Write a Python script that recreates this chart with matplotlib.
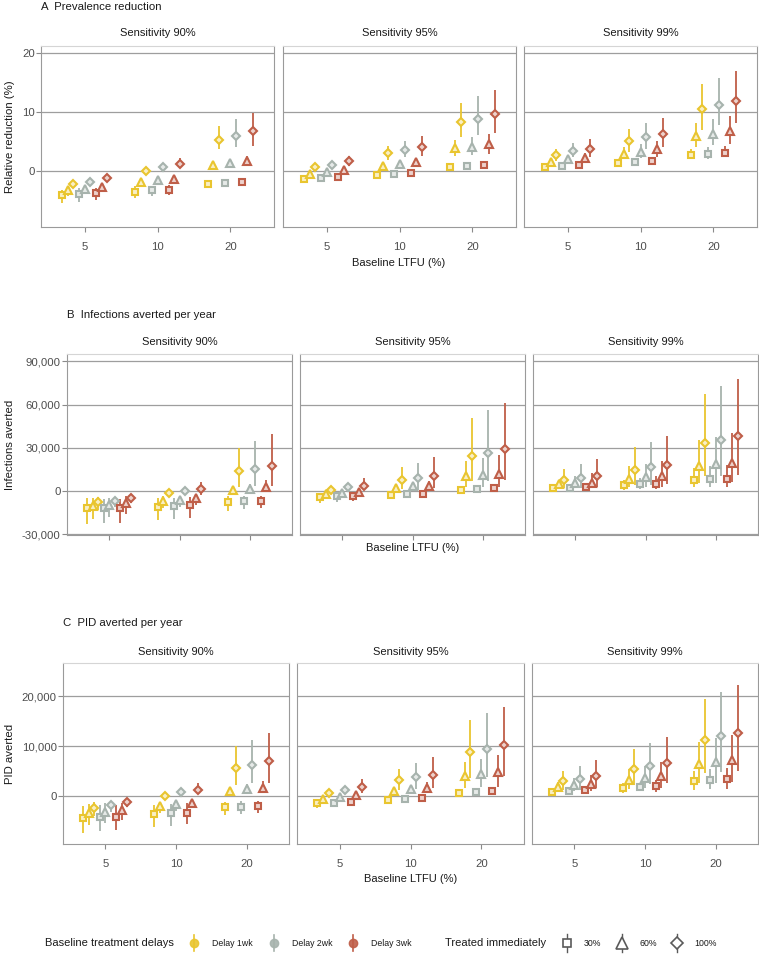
import matplotlib
matplotlib.use('Agg')
import matplotlib.pyplot as plt
import numpy as np
from matplotlib.ticker import FuncFormatter
from matplotlib.colors import to_rgb

plt.rcParams['font.family'] = ['Liberation Sans', 'DejaVu Sans']

# ---------------- data ----------------
ltfu_labels = ['5', '10', '20']
sensitivity_labels = ['Sensitivity 90%', 'Sensitivity 95%', 'Sensitivity 99%']
delay_labels = ['Delay 1wk', 'Delay 2wk', 'Delay 3wk']
treated_labels = ['30%', '60%', '100%']
# within each LTFU group the 9 values are ordered:
# (1wk,30%) (1wk,60%) (1wk,100%) (2wk,30%) ... (3wk,100%)

# A: relative prevalence reduction (%)  [sensitivity][ltfu][9]
prev_mid = [
    [[-4.0, -3.3, -2.2, -3.9, -3.0, -1.8, -3.8, -2.7, -1.25],
     [-3.5, -1.9, 0.05, -3.3, -1.6, 0.6, -3.2, -1.3, 1.25],
     [-2.15, 1.0, 5.3, -2.0, 1.3, 6.0, -1.8, 1.65, 6.7]],
    [[-1.35, -0.45, 0.6, -1.2, -0.2, 1.1, -1.0, 0.2, 1.7],
     [-0.6, 0.9, 3.0, -0.5, 1.25, 3.5, -0.35, 1.5, 4.1],
     [0.7, 3.9, 8.3, 0.85, 4.15, 8.9, 1.0, 4.5, 9.6]],
    [[0.75, 1.6, 2.65, 0.9, 2.0, 3.45, 1.1, 2.25, 3.8],
     [1.4, 2.9, 5.15, 1.6, 3.3, 5.7, 1.75, 3.7, 6.2],
     [2.75, 5.9, 10.55, 2.95, 6.3, 11.25, 3.1, 6.7, 11.9]],
]
prev_lo = [
    [[-5.5, -4.3, -2.5, -5.2, -3.8, -2.0, -5.0, -3.5, -1.5],
     [-4.6, -2.3, -0.15, -4.3, -2.0, 0.3, -4.1, -1.6, 0.5],
     [-2.5, 0.8, 3.7, -2.3, 1.0, 4.1, -2.0, 0.9, 4.3]],
    [[-1.5, -0.65, 0.1, -1.4, -0.4, 0.7, -1.2, -0.05, 0.9],
     [-0.8, 0.7, 1.9, -0.7, 1.0, 2.3, -0.55, 0.8, 2.6],
     [0.5, 2.6, 5.7, 0.65, 2.75, 6.1, 0.8, 2.9, 6.5]],
    [[0.55, 1.3, 1.75, 0.7, 1.4, 2.3, 0.9, 1.6, 2.4],
     [1.2, 2.0, 3.3, 1.4, 2.15, 3.7, 1.5, 2.4, 4.1],
     [2.0, 4.1, 6.95, 2.0, 4.4, 7.8, 2.3, 4.5, 8.2]],
]
prev_hi = [
    [[-3.2, -2.6, -2.0, -2.9, -2.3, -1.5, -2.9, -2.0, -1.0],
     [-2.5, -1.5, 0.25, -2.5, -1.3, 0.9, -2.4, -1.1, 2.2],
     [-1.9, 1.2, 7.7, -1.8, 1.6, 8.75, -1.6, 2.5, 9.9]],
    [[-1.2, -0.3, 1.1, -1.0, 0.0, 1.5, -0.8, 0.45, 2.6],
     [-0.4, 1.1, 4.2, -0.3, 1.5, 5.1, -0.15, 2.2, 6.0],
     [0.9, 5.3, 11.6, 1.05, 5.7, 12.7, 1.2, 6.3, 13.7]],
    [[0.95, 1.9, 3.7, 1.1, 2.6, 4.7, 1.3, 3.0, 5.5],
     [1.6, 4.0, 7.1, 1.8, 4.6, 8.1, 2.0, 5.1, 9.0],
     [3.8, 8.1, 14.7, 4.0, 8.8, 15.8, 4.3, 9.3, 16.9]],
]

# B: infections averted per year (thousands)
inf_mid = [
    [[-11.9, -10.0, -7.4, -11.9, -9.5, -6.5, -11.4, -8.4, -5.1],
     [-10.7, -6.5, -1.4, -10.2, -6.0, 0.0, -9.8, -5.1, 1.2],
     [-7.4, 0.7, 13.7, -7.0, 1.6, 15.6, -6.7, 2.6, 17.7]],
    [[-4.2, -1.9, 0.9, -3.7, -1.4, 2.6, -3.7, -0.7, 3.7],
     [-2.6, 2.1, 7.4, -2.1, 3.3, 9.1, -1.9, 3.7, 10.7],
     [0.9, 10.2, 24.4, 1.4, 11.2, 26.7, 1.9, 12.1, 29.3]],
    [[2.1, 4.6, 7.4, 2.3, 5.3, 9.0, 2.8, 5.8, 10.4],
     [3.9, 8.5, 14.8, 4.6, 9.9, 16.4, 5.1, 10.6, 18.2],
     [7.8, 17.5, 33.2, 8.3, 18.9, 35.5, 8.5, 19.8, 38.3]],
]
inf_lo = [
    [[-23.0, -19.5, -13.0, -22.3, -17.7, -10.7, -21.9, -15.8, -8.4],
     [-20.0, -11.9, -2.2, -19.5, -10.7, -1.5, -18.8, -9.5, -3.0],
     [-13.5, 0.0, 2.6, -12.6, -1.4, 3.3, -11.9, -0.7, 3.3]],
    [[-7.9, -2.8, -0.9, -7.2, -2.3, -0.2, -6.5, -1.8, 0.5],
     [-3.6, -0.2, 1.4, -3.1, -0.2, 0.9, -2.9, 0.2, 2.1],
     [-0.2, 2.6, 6.7, 0.3, 2.6, 7.2, 0.6, 2.8, 7.9]],
    [[1.0, 1.8, 2.1, 1.2, 2.1, 2.1, 1.5, 2.1, 2.8],
     [0.9, 3.2, 4.4, 1.4, 3.2, 4.4, 1.4, 3.2, 5.1],
     [2.6, 5.5, 10.2, 2.8, 5.5, 10.8, 2.8, 6.0, 11.5]],
]
inf_hi = [
    [[-4.9, -4.9, -4.2, -5.6, -4.9, -4.2, -5.6, -3.7, -3.3],
     [-4.9, -3.7, -0.6, -4.9, -3.7, 1.5, -4.2, -2.6, 6.3],
     [-3.7, 1.4, 30.0, -3.7, 5.1, 34.7, -3.7, 7.4, 39.3]],
    [[-1.9, -1.0, 2.6, -1.4, -0.5, 5.6, -1.6, 0.4, 9.1],
     [-1.6, 4.0, 16.5, -1.1, 6.0, 19.5, -0.9, 6.7, 23.5],
     [2.0, 21.2, 50.9, 2.5, 23.0, 56.0, 3.2, 25.3, 61.0]],
    [[3.2, 7.4, 15.2, 3.4, 10.2, 18.9, 4.1, 12.5, 22.4],
     [7.4, 17.1, 30.7, 9.0, 18.9, 34.2, 10.2, 21.2, 38.3],
     [15.9, 35.5, 67.4, 17.1, 37.8, 72.5, 17.8, 40.2, 77.8]],
]

# C: PID averted per year (thousands)
pid_mid = [
    [[-4.27, -3.27, -2.33, -4.2, -3.07, -1.73, -4.07, -2.73, -1.2],
     [-3.6, -1.93, 0.07, -3.4, -1.6, 0.8, -3.27, -1.27, 1.27],
     [-2.2, 1.0, 5.67, -2.07, 1.4, 6.33, -1.93, 1.73, 7.0]],
    [[-1.4, -0.47, 0.6, -1.27, -0.07, 1.2, -1.07, 0.27, 1.8],
     [-0.73, 1.0, 3.2, -0.53, 1.47, 3.8, -0.33, 1.67, 4.33],
     [0.73, 4.07, 8.8, 0.93, 4.47, 9.53, 1.07, 4.8, 10.2]],
    [[0.93, 1.93, 3.0, 1.07, 2.2, 3.53, 1.2, 2.53, 4.13],
     [1.6, 3.27, 5.47, 1.8, 3.67, 6.13, 2.0, 4.07, 6.73],
     [3.07, 6.47, 11.27, 3.27, 6.87, 12.07, 3.4, 7.27, 12.73]],
]
pid_lo = [
    [[-7.27, -5.8, -3.93, -6.93, -5.4, -3.07, -6.73, -4.73, -2.07],
     [-6.2, -3.27, -0.2, -5.87, -2.87, 0.13, -5.6, -2.4, 0.47],
     [-3.73, 0.47, 2.27, -3.53, 0.47, 2.6, -3.27, 0.6, 2.73]],
    [[-2.27, -0.8, 0.07, -2.0, -0.35, 0.4, -1.5, -0.05, 0.6],
     [-0.95, 0.6, 1.27, -0.75, 0.6, 1.53, -0.55, 0.6, 1.73],
     [0.45, 1.6, 3.6, 0.65, 1.8, 3.8, 0.75, 1.93, 4.0]],
    [[0.6, 1.07, 1.27, 0.75, 1.07, 1.27, 0.85, 1.07, 1.6],
     [0.6, 1.4, 2.27, 1.0, 1.6, 2.47, 0.93, 1.6, 2.6],
     [1.27, 2.6, 4.6, 1.4, 2.6, 4.87, 1.4, 2.8, 5.13]],
]
pid_hi = [
    [[-1.93, -1.53, -1.07, -1.73, -1.4, -0.87, -1.73, -1.27, -0.6],
     [-1.73, -1.07, 0.33, -1.53, -0.73, 1.4, -1.4, -0.6, 2.73],
     [-1.07, 1.4, 10.07, -0.93, 2.47, 11.27, -0.87, 3.13, 12.6]],
    [[-0.6, -0.15, 1.07, -0.5, 0.2, 2.07, -0.65, 0.6, 3.4],
     [-0.5, 1.4, 5.47, -0.3, 2.27, 6.6, -0.1, 2.8, 7.8],
     [1.0, 6.8, 15.27, 1.2, 7.53, 16.6, 1.4, 8.27, 17.93]],
    [[1.25, 2.93, 5.0, 1.4, 3.6, 6.13, 1.55, 4.2, 7.27],
     [2.6, 5.4, 9.4, 2.6, 6.13, 10.6, 3.27, 6.8, 11.87],
     [5.13, 10.87, 19.4, 5.47, 11.6, 20.87, 5.73, 12.27, 22.2]],
]

# ---------------- style ----------------
delay_colors = ['#E9C52F', '#A7B3AD', '#BF5E48']
shape_markers = ['s', '^', 'D']
marker_sizes = [4.3, 5.6, 4.3]
W, H = 759, 961
fig = plt.figure(figsize=(W / 100, H / 100), dpi=100)

TXT = '#1A1A1A'
TICK = '#4D4D4D'
GRID = '#9E9E9E'


def px_axes(x0, x1, y0, y1):
    return fig.add_axes([x0 / W, 1 - y1 / H, (x1 - x0) / W, (y1 - y0) / H])


def light(c, f=0.72):
    r, g, b = to_rgb(c)
    return (r + (1 - r) * f, g + (1 - g) * f, b + (1 - b) * f)


panels = [
    dict(letter='A', title='Prevalence reduction', ylabel='Relative reduction (%)',
         mid=prev_mid, lo=prev_lo, hi=prev_hi, scale=1.0,
         ylim=(-9.5, 21.2), yticks=[0, 10, 20], xlabels=True,
         xs=[(41, 274), (283, 516), (524, 757)], y=(46, 227),
         title_y=7, strip_y=33, xlab_y=263),
    dict(letter='B', title='Infections averted per year', ylabel='Infections averted',
         mid=inf_mid, lo=inf_lo, hi=inf_hi, scale=1000.0,
         ylim=(-30400, 95000), yticks=[-30000, 0, 30000, 60000, 90000], xlabels=False,
         xs=[(67, 292), (300, 525), (533, 758)], y=(354, 535),
         title_y=315, strip_y=342, xlab_y=548),
    dict(letter='C', title='PID averted per year', ylabel='PID averted',
         mid=pid_mid, lo=pid_lo, hi=pid_hi, scale=1000.0,
         ylim=(-9540, 26660), yticks=[0, 10000, 20000], xlabels=True,
         xs=[(63, 289), (297, 524), (532, 758)], y=(663, 844),
         title_y=623, strip_y=652, xlab_y=879),
]

n_series = len(delay_labels) * len(treated_labels)
dodge = 0.7 / n_series
offsets = (np.arange(n_series) - (n_series - 1) / 2) * dodge
group_x = np.arange(1, len(ltfu_labels) + 1)

for p in panels:
    for f, (x0, x1) in enumerate(p['xs']):
        ax = px_axes(x0, x1, p['y'][0], p['y'][1])
        ax.set_xlim(0.4, 3.6)
        ax.set_ylim(*p['ylim'])
        ax.set_yticks(p['yticks'])
        ax.set_xticks(group_x)
        ax.set_xticklabels(ltfu_labels)
        for yt in p['yticks']:
            ax.axhline(yt, color=GRID, lw=0.9, zorder=0)
        for s in ['left', 'bottom', 'right']:
            ax.spines[s].set_color('#9A9A9A')
            ax.spines[s].set_linewidth(0.8)
        ax.spines['top'].set_color('#D5D5D5')
        ax.spines['top'].set_linewidth(0.8)
        ax.tick_params(axis='both', colors='#8A8A8A', length=3.5, width=0.8,
                       labelcolor=TICK, labelsize=8.2)
        ax.tick_params(axis='x', pad=7, labelbottom=p['xlabels'])
        ax.tick_params(axis='y', pad=1)
        if f == 0:
            if p['scale'] > 1:
                ax.yaxis.set_major_formatter(FuncFormatter(lambda v, pos: f'{int(v):,}'))
        else:
            ax.tick_params(axis='y', length=0, labelleft=False)
        mid = np.array(p['mid'][f]) * p['scale']
        lo = np.array(p['lo'][f]) * p['scale']
        hi = np.array(p['hi'][f]) * p['scale']
        for g in range(len(ltfu_labels)):
            for k in range(n_series):
                d, t = divmod(k, len(treated_labels))
                xx = group_x[g] + offsets[k]
                col = delay_colors[d]
                ax.vlines(xx, lo[g][k], hi[g][k], color=col, lw=1.3, zorder=2)
                ax.plot([xx], [mid[g][k]], marker=shape_markers[t], ms=marker_sizes[t],
                        mec=col, mfc=light(col), mew=1.5, ls='none', zorder=3)
        fig.text((x0 + x1) / 2 / W, 1 - p['strip_y'] / H, sensitivity_labels[f],
                 ha='center', va='center', fontsize=8, color=TXT)
    fig.text(p['xs'][0][0] / W, 1 - p['title_y'] / H, f"{p['letter']}  {p['title']}",
             ha='left', va='center', fontsize=8.2, color=TXT)
    fig.text((p['xs'][0][0] + p['xs'][2][1]) / 2 / W, 1 - p['xlab_y'] / H, 'Baseline LTFU (%)',
             ha='center', va='center', fontsize=8, color=TXT)
    fig.text(10 / W, 1 - (p['y'][0] + p['y'][1]) / 2 / H, p['ylabel'],
             ha='center', va='center', rotation=90, fontsize=8.2, color=TXT)

# ---------------- legend ----------------
lg = fig.add_axes([0, 0, 1, 1], zorder=-1)
lg.set_xlim(0, W)
lg.set_ylim(H, 0)
lg.axis('off')
ly = 943
lg.text(45, ly, 'Baseline treatment delays', ha='left', va='center', fontsize=8, color=TXT)
delay_key_x = [194, 274, 353]
for i, (kx, lab) in enumerate(zip(delay_key_x, delay_labels)):
    lg.plot([kx, kx], [ly - 8, ly + 8], color=delay_colors[i], lw=1.2)
    lg.plot([kx], [ly], marker='o', ms=6, color=delay_colors[i], mec=delay_colors[i], alpha=0.9)
    lg.text(kx + 18, ly, lab, ha='left', va='center', fontsize=6.3, color=TXT)
lg.text(445, ly, 'Treated immediately', ha='left', va='center', fontsize=8, color=TXT)
treat_key_x = [567, 622, 677]
for i, (kx, lab) in enumerate(zip(treat_key_x, treated_labels)):
    lg.plot([kx, kx], [ly - 9, ly + 9], color='#5A5A5A', lw=1.0)
    lg.plot([kx], [ly], marker=shape_markers[i], ms=[6, 8, 6.5][i], mfc='white',
            mec='#5A5A5A', mew=1.2, ls='none')
    lg.text(kx + 17, ly, lab, ha='left', va='center', fontsize=6.3, color=TXT)

fig.savefig('out.png', dpi=100)
